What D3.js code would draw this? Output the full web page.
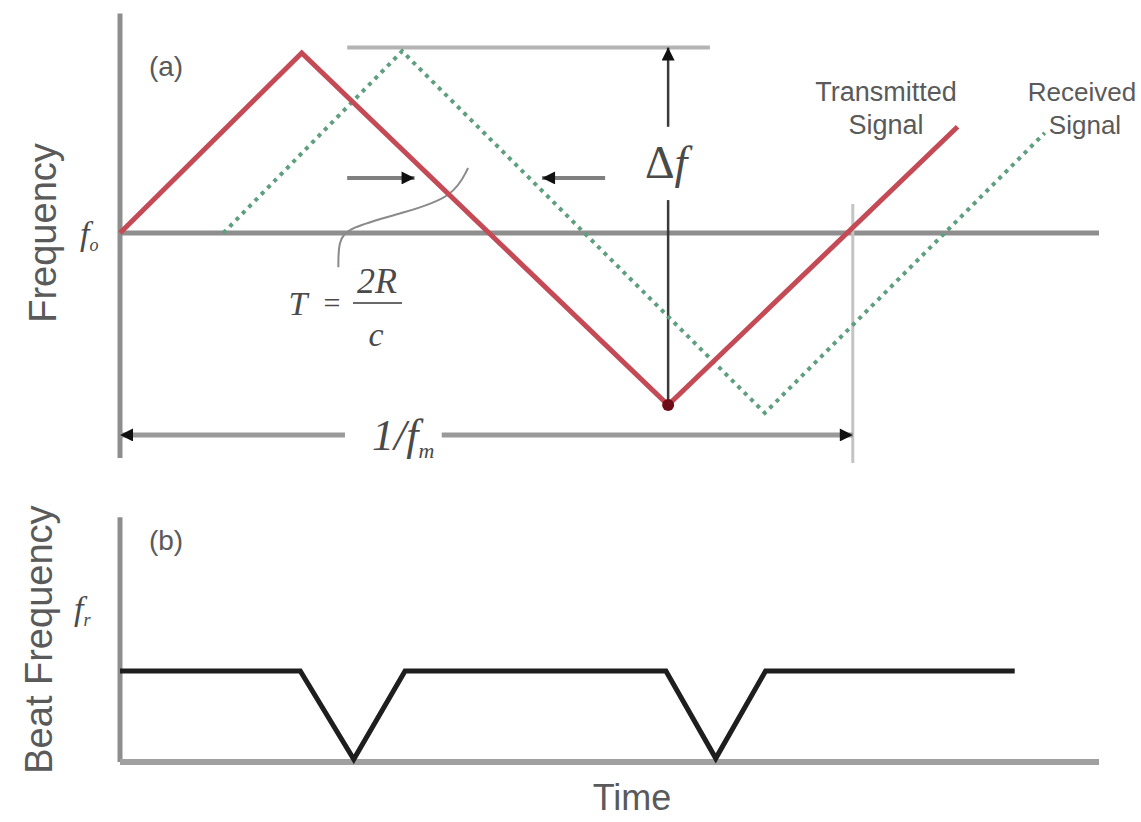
<!DOCTYPE html>
<html>
<head>
<meta charset="utf-8">
<script src="https://cdn.jsdelivr.net/npm/d3@7/dist/d3.min.js"></script>
<style>
    body { margin: 0; background: #fff; }
    text { font-family: "Liberation Sans", Arial, sans-serif; fill: #5a5a5a; }
    .math { font-family: "Liberation Serif", "DejaVu Serif", serif; font-style: italic; fill: #4a4a4a; }
</style>
</head>
<body>
<div id="visualization"></div>
<script>
// time is measured in modulation periods (1/fm), frequency as offset from fo
var txTime = [0, 0.248, 0.748, 1.143];
var txFreq = [0, 1.0, -0.956, 0.59];
var rxTime = [0.141, 0.385, 0.880, 1.262];
var rxFreq = [0, 1.01, -1.0, 0.556];

// beat frequency (b), relative to its steady level
var beatTime = [0, 0.246, 0.319, 0.389, 0.745, 0.813, 0.881, 1.221];
var beatFreq = [1, 1, 0.03, 1, 1, 0.04, 1, 1];

// annotation values
var bandEdge = [-0.956, 1.03];      // delta f arrow, bottom and top
var bandGap = [0.183, 0.59];        // break in the delta f arrow for its label
var bandLine = [0.31, 0.805];       // top reference line extent
var delayLevel = 0.306;             // height of the T arrows
var delayLeft = [0.31, 0.402];
var delayRight = [0.662, 0.576];
var periodLevel = -1.122;           // 1/fm arrow height
var periodGap = [0.307, 0.439];
var periodMark = [0.161, -1.278];   // vertical mark at t = 1
var timeEnd = 1.336;

var width = 1141, height = 822;

var svg = d3.select("#visualization")
    .append("svg")
    .attr("width", width)
    .attr("height", height);

var x = d3.scaleLinear().domain([0, timeEnd]).range([120, 1099]),
    yA = d3.scaleLinear().domain([-1, 1]).range([413, 53]),
    yB = d3.scaleLinear().domain([0, 1]).range([762, 671]);

var defs = svg.append("defs");
defs.append("marker")
    .attr("id", "arrow")
    .attr("viewBox", "0 0 10 10")
    .attr("refX", 10).attr("refY", 5)
    .attr("markerUnits", "userSpaceOnUse")
    .attr("markerWidth", 15).attr("markerHeight", 13)
    .attr("orient", "auto-start-reverse")
    .append("path")
    .attr("d", "M0,0L10,5L0,10z")
    .attr("fill", "#111");

function pts(ts, fs) {
    return ts.map(function (t, i) { return [t, fs[i]]; });
}

var lineA = d3.line()
    .x(function (d) { return x(d[0]); })
    .y(function (d) { return yA(d[1]); });

var lineB = d3.line()
    .x(function (d) { return x(d[0]); })
    .y(function (d) { return yB(d[1]); });

// ==== panel (a) ====
var pa = svg.append("g").attr("class", "panel-a");

// axes
pa.append("line")
    .attr("x1", x(0)).attr("x2", x(0))
    .attr("y1", yA(1.22)).attr("y2", yA(-1.25))
    .attr("stroke", "#8e8e8e").attr("stroke-width", 5);
pa.append("line")
    .attr("x1", x(0)).attr("x2", x(timeEnd))
    .attr("y1", yA(0)).attr("y2", yA(0))
    .attr("stroke", "#8e8e8e").attr("stroke-width", 5);

// top reference line for the sweep band
pa.append("line")
    .attr("x1", x(bandLine[0])).attr("x2", x(bandLine[1]))
    .attr("y1", yA(bandEdge[1])).attr("y2", yA(bandEdge[1]))
    .attr("stroke", "#b4b4b4").attr("stroke-width", 4);

// vertical mark at one period
pa.append("line")
    .attr("x1", x(1)).attr("x2", x(1))
    .attr("y1", yA(periodMark[0])).attr("y2", yA(periodMark[1]))
    .attr("stroke", "#c4c4c4").attr("stroke-width", 3);

// 1/fm arrow
pa.append("line")
    .attr("x1", x(periodGap[0])).attr("x2", x(0))
    .attr("y1", yA(periodLevel)).attr("y2", yA(periodLevel))
    .attr("stroke", "#9a9a9a").attr("stroke-width", 5)
    .attr("marker-end", "url(#arrow)");
pa.append("line")
    .attr("x1", x(periodGap[1])).attr("x2", x(1))
    .attr("y1", yA(periodLevel)).attr("y2", yA(periodLevel))
    .attr("stroke", "#9a9a9a").attr("stroke-width", 5)
    .attr("marker-end", "url(#arrow)");

// delta f arrow
pa.append("line")
    .attr("x1", x(txTime[2])).attr("x2", x(txTime[2]))
    .attr("y1", yA(bandGap[1])).attr("y2", yA(bandEdge[1]))
    .attr("stroke", "#3a3a3a").attr("stroke-width", 2.5)
    .attr("marker-end", "url(#arrow)");
pa.append("line")
    .attr("x1", x(txTime[2])).attr("x2", x(txTime[2]))
    .attr("y1", yA(bandGap[0])).attr("y2", yA(bandEdge[0]))
    .attr("stroke", "#3a3a3a").attr("stroke-width", 2.5);

// T arrows
pa.append("line")
    .attr("x1", x(delayLeft[0])).attr("x2", x(delayLeft[1]))
    .attr("y1", yA(delayLevel)).attr("y2", yA(delayLevel))
    .attr("stroke", "#808080").attr("stroke-width", 4)
    .attr("marker-end", "url(#arrow)");
pa.append("line")
    .attr("x1", x(delayRight[0])).attr("x2", x(delayRight[1]))
    .attr("y1", yA(delayLevel)).attr("y2", yA(delayLevel))
    .attr("stroke", "#808080").attr("stroke-width", 4)
    .attr("marker-end", "url(#arrow)");

// leader from the delay to the formula
var leader = [[0.475, 0.361], [0.455, 0.2], [0.39, 0.115], [0.31, 0.03], [0.298, -0.05], [0.298, -0.19]];
pa.append("path")
    .datum(leader)
    .attr("d", lineA.curve(d3.curveBasis))
    .attr("fill", "none")
    .attr("stroke", "#8a8a8a").attr("stroke-width", 2);
lineA.curve(d3.curveLinear);

// received signal
pa.append("path")
    .datum(pts(rxTime, rxFreq))
    .attr("d", lineA)
    .attr("fill", "none")
    .attr("stroke", "#5f9f80")
    .attr("stroke-width", 4)
    .attr("stroke-dasharray", "4,5");

// transmitted signal
pa.append("path")
    .datum(pts(txTime, txFreq))
    .attr("d", lineA)
    .attr("fill", "none")
    .attr("stroke", "#c44a55")
    .attr("stroke-width", 5)
    .attr("stroke-linejoin", "miter");

pa.append("circle")
    .attr("cx", x(txTime[2])).attr("cy", yA(txFreq[2]))
    .attr("r", 6)
    .attr("fill", "#6e0d18");

// labels
pa.append("text")
    .attr("x", 166).attr("y", 76)
    .attr("text-anchor", "middle")
    .attr("font-size", 28)
    .text("(a)");

pa.append("text")
    .attr("transform", "translate(56," + yA(0) + ") rotate(-90)")
    .attr("text-anchor", "middle")
    .attr("font-size", 38)
    .text("Frequency");

var fo = pa.append("text")
    .attr("class", "math")
    .attr("x", 80).attr("y", yA(0) + 12)
    .attr("font-size", 34)
    .text("f");
fo.append("tspan").attr("dy", 6).attr("font-size", 18).text("o");

var tx = pa.append("text")
    .attr("x", 886).attr("y", 101)
    .attr("text-anchor", "middle")
    .attr("font-size", 27);
tx.append("tspan").attr("x", 886).text("Transmitted");
tx.append("tspan").attr("x", 886).attr("dy", 33).text("Signal");

var rx = pa.append("text")
    .attr("x", 1082).attr("y", 101)
    .attr("text-anchor", "middle")
    .attr("font-size", 26);
rx.append("tspan").attr("x", 1082).text("Received");
rx.append("tspan").attr("x", 1085).attr("dy", 33).text("Signal");

var df = pa.append("text")
    .attr("class", "math")
    .attr("x", x(txTime[2]) - 2).attr("y", 178)
    .attr("text-anchor", "middle")
    .attr("font-size", 46);
df.append("tspan").style("font-style", "normal").text("\u0394");
df.append("tspan").text("f");

// T = 2R / c
pa.append("text")
    .attr("class", "math")
    .attr("x", 298).attr("y", 315)
    .attr("text-anchor", "middle")
    .attr("font-size", 34)
    .text("T");
pa.append("text")
    .attr("class", "math")
    .attr("x", 332).attr("y", 313)
    .attr("text-anchor", "middle")
    .attr("font-size", 30)
    .style("font-style", "normal")
    .text("=");
pa.append("text")
    .attr("class", "math")
    .attr("x", 377).attr("y", 293)
    .attr("text-anchor", "middle")
    .attr("font-size", 36)
    .text("2R");
pa.append("line")
    .attr("x1", 353).attr("x2", 402)
    .attr("y1", 303).attr("y2", 303)
    .attr("stroke", "#6a6a6a").attr("stroke-width", 2);
pa.append("text")
    .attr("class", "math")
    .attr("x", 376).attr("y", 346)
    .attr("text-anchor", "middle")
    .attr("font-size", 34)
    .text("c");

var fm = pa.append("text")
    .attr("class", "math")
    .attr("x", 372).attr("y", yA(periodLevel) + 15)
    .attr("font-size", 44)
    .text("1/f");
fm.append("tspan").attr("dy", 8).attr("font-size", 22).text("m");

// ==== panel (b) ====
var pb = svg.append("g").attr("class", "panel-b");

pb.append("line")
    .attr("x1", x(0)).attr("x2", x(0))
    .attr("y1", yB(2.69)).attr("y2", yB(0))
    .attr("stroke", "#8e8e8e").attr("stroke-width", 5);
pb.append("line")
    .attr("x1", x(0)).attr("x2", x(timeEnd))
    .attr("y1", yB(0)).attr("y2", yB(0))
    .attr("stroke", "#a0a0a0").attr("stroke-width", 6);

pb.append("path")
    .datum(pts(beatTime, beatFreq))
    .attr("d", lineB)
    .attr("fill", "none")
    .attr("stroke", "#1e1e1e")
    .attr("stroke-width", 5);

pb.append("text")
    .attr("x", 166).attr("y", 550)
    .attr("text-anchor", "middle")
    .attr("font-size", 28)
    .text("(b)");

pb.append("text")
    .attr("transform", "translate(52," + (yB(2.69) + yB(0)) / 2 + ") rotate(-90)")
    .attr("text-anchor", "middle")
    .attr("font-size", 38)
    .text("Beat Frequency");

var fr = pb.append("text")
    .attr("class", "math")
    .attr("x", 74).attr("y", 620)
    .attr("font-size", 34)
    .text("f");
fr.append("tspan").attr("dy", 6).attr("font-size", 18).text("r");

pb.append("text")
    .attr("x", 632).attr("y", 810)
    .attr("text-anchor", "middle")
    .attr("font-size", 36)
    .text("Time");
</script>
</body>
</html>
